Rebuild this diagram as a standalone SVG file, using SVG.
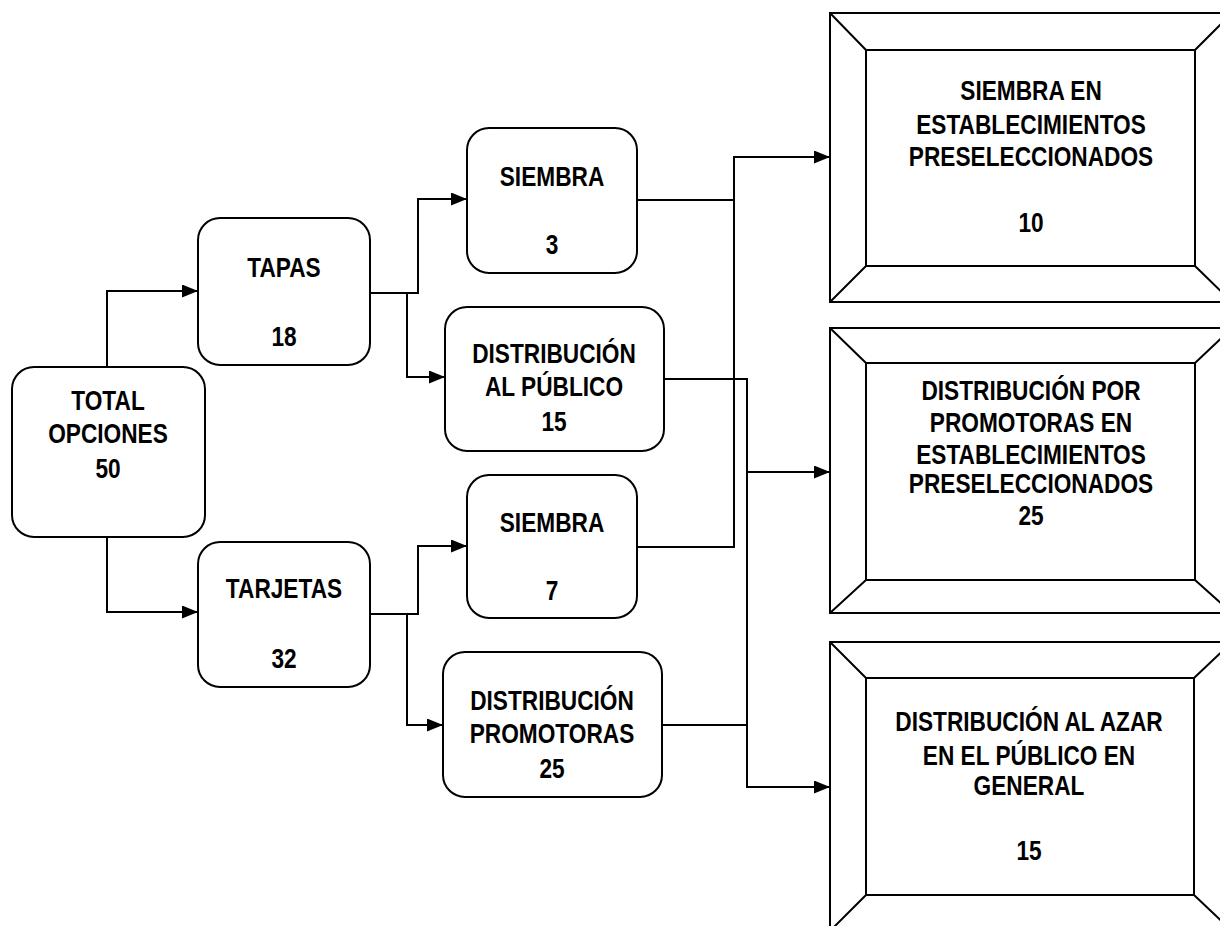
<svg xmlns="http://www.w3.org/2000/svg" width="1220" height="926" viewBox="0 0 1220 926">
<style>
.box{fill:#fff;stroke:#000;stroke-width:2}
.bev{fill:none;stroke:#000;stroke-width:2}
.ln{fill:none;stroke:#000;stroke-width:2}
.t{font-family:"Liberation Sans",Arial,sans-serif;font-weight:bold;font-size:27px;text-anchor:middle;fill:#000}
.tr{font-family:"Liberation Sans",Arial,sans-serif;font-weight:bold;font-size:27px;text-anchor:middle;fill:#000}
</style>
<defs>
<marker id="ah" markerWidth="16" markerHeight="13" refX="16" refY="6.5" orient="auto" markerUnits="userSpaceOnUse">
<path d="M0,0 L16,6.5 L0,13 Z" fill="#000"/>
</marker>
</defs>
<rect width="1220" height="926" fill="#fff"/>
<g id="connectors">
<polyline class="ln" points="107,367 107,291 198,291" marker-end="url(#ah)"/>
<polyline class="ln" points="107,537 107,612 198,612" marker-end="url(#ah)"/>
<polyline class="ln" points="370,293 418,293 418,199 467,199" marker-end="url(#ah)"/>
<polyline class="ln" points="407,293 407,377 445,377" marker-end="url(#ah)"/>
<polyline class="ln" points="370,614 418,614 418,546 467,546" marker-end="url(#ah)"/>
<polyline class="ln" points="407,614 407,725 443,725" marker-end="url(#ah)"/>
<polyline class="ln" points="637,200 734,200"/>
<polyline class="ln" points="637,547 734,547 734,157 830,157" marker-end="url(#ah)"/>
<polyline class="ln" points="664,379 747,379 747,787 830,787" marker-end="url(#ah)"/>
<polyline class="ln" points="662,725 747,725"/>
<polyline class="ln" points="747,472 830,472" marker-end="url(#ah)"/>
</g>
<g id="total">
<rect class="box" x="12" y="367" width="193" height="170" rx="22"/>
<g transform="translate(108,0) scale(0.84,1)">
<text class="t" x="0" y="410">TOTAL</text>
<text class="t" x="0" y="443">OPCIONES</text>
<text class="t" x="0" y="478">50</text>
</g>
</g>
<g id="tapas">
<rect class="box" x="198" y="218" width="172" height="147" rx="22"/>
<g transform="translate(284,0) scale(0.84,1)">
<text class="t" x="0" y="277">TAPAS</text>
<text class="t" x="0" y="346">18</text>
</g>
</g>
<g id="tarjetas">
<rect class="box" x="198" y="542" width="172" height="145" rx="22"/>
<g transform="translate(284,0) scale(0.84,1)">
<text class="t" x="0" y="598">TARJETAS</text>
<text class="t" x="0" y="668">32</text>
</g>
</g>
<g id="siembra1">
<rect class="box" x="467" y="128" width="170" height="145" rx="22"/>
<g transform="translate(552,0) scale(0.84,1)">
<text class="t" x="0" y="186">SIEMBRA</text>
<text class="t" x="0" y="254">3</text>
</g>
</g>
<g id="distpublico">
<rect class="box" x="445" y="307" width="219" height="144" rx="22"/>
<g transform="translate(554,0) scale(0.84,1)">
<text class="t" x="0" y="363">DISTRIBUCIÓN</text>
<text class="t" x="0" y="396">AL PÚBLICO</text>
<text class="t" x="0" y="431">15</text>
</g>
</g>
<g id="siembra2">
<rect class="box" x="467" y="475" width="170" height="143" rx="22"/>
<g transform="translate(552,0) scale(0.84,1)">
<text class="t" x="0" y="532">SIEMBRA</text>
<text class="t" x="0" y="600">7</text>
</g>
</g>
<g id="distpromotoras">
<rect class="box" x="443" y="652" width="219" height="145" rx="22"/>
<g transform="translate(552,0) scale(0.84,1)">
<text class="t" x="0" y="710">DISTRIBUCIÓN</text>
<text class="t" x="0" y="743">PROMOTORAS</text>
<text class="t" x="0" y="778">25</text>
</g>
</g>
<g id="siembra-establecimientos">
<rect class="bev" x="830" y="13" width="402" height="289"/>
<rect class="bev" x="866" y="50" width="329" height="216"/>
<path class="bev" d="M830,13 L866,50 M1232,13 L1195,50 M830,302 L866,266 M1232,302 L1195,266"/>
<g transform="translate(1031,0) scale(0.84,1)">
<text class="tr" x="0" y="100">SIEMBRA EN</text>
<text class="tr" x="0" y="134">ESTABLECIMIENTOS</text>
<text class="tr" x="0" y="166">PRESELECCIONADOS</text>
<text class="tr" x="0" y="232">10</text>
</g>
</g>
<g id="distribucion-promotoras-establecimientos">
<rect class="bev" x="830" y="328" width="402" height="285"/>
<rect class="bev" x="866" y="363" width="329" height="217"/>
<path class="bev" d="M830,328 L866,363 M1232,328 L1195,363 M830,613 L866,580 M1232,613 L1195,580"/>
<g transform="translate(1031,0) scale(0.84,1)">
<text class="tr" x="0" y="400">DISTRIBUCIÓN POR</text>
<text class="tr" x="0" y="432">PROMOTORAS EN</text>
<text class="tr" x="0" y="464">ESTABLECIMIENTOS</text>
<text class="tr" x="0" y="493">PRESELECCIONADOS</text>
<text class="tr" x="0" y="525">25</text>
</g>
</g>
<g id="distribucion-azar">
<rect class="bev" x="830" y="642" width="402" height="289"/>
<rect class="bev" x="866" y="678" width="328" height="217"/>
<path class="bev" d="M830,642 L866,678 M1232,642 L1194,678 M830,931 L866,895 M1232,931 L1194,895"/>
<g transform="translate(1029,0) scale(0.84,1)">
<text class="tr" x="0" y="731">DISTRIBUCIÓN AL AZAR</text>
<text class="tr" x="0" y="765">EN EL PÚBLICO EN</text>
<text class="tr" x="0" y="795">GENERAL</text>
<text class="tr" x="0" y="860">15</text>
</g>
</g>
</svg>
